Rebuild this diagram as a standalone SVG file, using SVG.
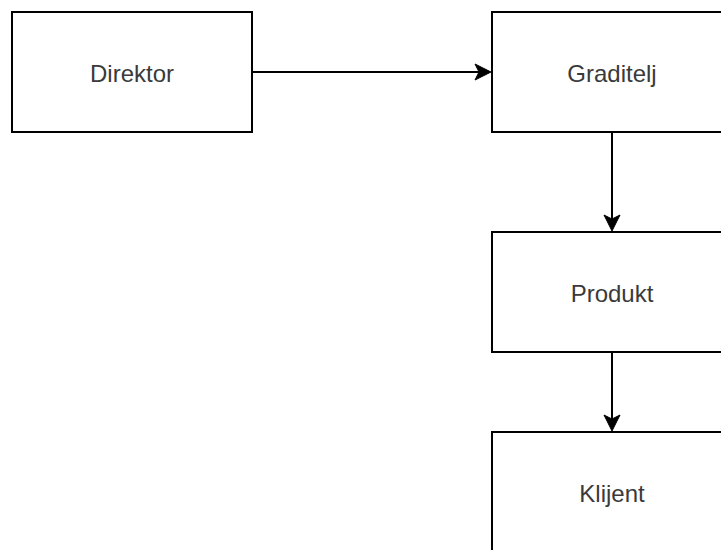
<svg xmlns="http://www.w3.org/2000/svg" width="721" height="550" viewBox="0 0 721 550">
<style>
.box{fill:#fff;stroke:#000;stroke-width:2}
.lbl{font-family:"Liberation Sans",Arial,sans-serif;font-size:24px;fill:#3a3a3a;text-anchor:middle}
.edge{fill:none;stroke:#000;stroke-width:2}
.head{fill:#000;stroke:#000;stroke-width:1}
</style>
<rect width="721" height="550" fill="#fff"/>
<g id="direktor"><rect class="box" x="12" y="12" width="240" height="120"/><text class="lbl" x="132" y="81.5">Direktor</text></g>
<g id="graditelj"><rect class="box" x="492" y="12" width="240" height="120"/><text class="lbl" x="612" y="81.5">Graditelj</text></g>
<g id="produkt"><rect class="box" x="492" y="232" width="240" height="120"/><text class="lbl" x="612" y="302">Produkt</text></g>
<g id="klijent"><rect class="box" x="492" y="432" width="240" height="120"/><text class="lbl" x="612" y="502">Klijent</text></g>
<g id="connectors">
<path class="edge" d="M252 72 H480"/>
<path class="head" d="M491 72 L475 64 L479 72 L475 80 Z"/>
<path class="edge" d="M612 132 V220"/>
<path class="head" d="M612 231 L604 215 L612 219 L620 215 Z"/>
<path class="edge" d="M612 352 V420"/>
<path class="head" d="M612 431 L604 415 L612 419 L620 415 Z"/>
</g>
</svg>
